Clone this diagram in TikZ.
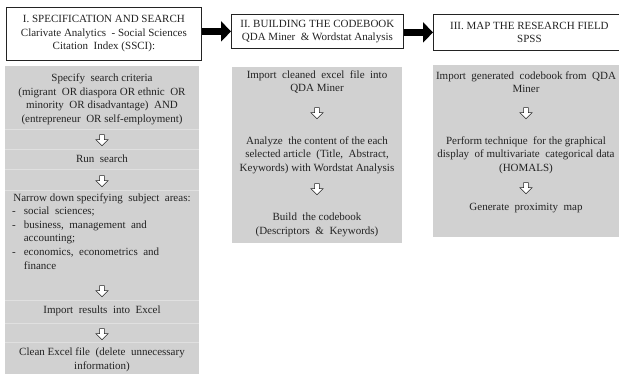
\documentclass[tikz,border=0pt]{standalone}
\usepackage{fontspec}
\setmainfont{Liberation Serif}
\usetikzlibrary{arrows.meta,positioning,shapes.arrows}
\definecolor{panelgray}{RGB}{209,209,209}
\definecolor{rulegray}{RGB}{224,224,224}
\definecolor{inkgray}{RGB}{35,35,35}
\tikzset{
  head/.style={draw=inkgray,line width=0.8pt,fill=white,align=center,inner sep=0pt,
    text=inkgray,font=\fontsize{11}{13.5}\selectfont},
  txt/.style={align=center,inner sep=0pt,text=inkgray,font=\fontsize{11}{13.6}\selectfont},
  down/.style={single arrow,draw=inkgray,fill=white,line width=0.6pt,rotate=-90,
    minimum height=11pt,minimum width=12pt,single arrow head extend=3.5pt,inner sep=2pt},
  link/.style={line width=7pt,-{Triangle[length=10pt,width=20pt]},black}
}
\begin{document}
\begin{tikzpicture}[x=1pt,y=-1pt]
  \useasboundingbox (0,0) rectangle (619,373);
  \clip (0,0) rectangle (619,373);
  % gray panels
  \fill[panelgray] (5,66) rectangle (199,380);
  \fill[panelgray] (232,67) rectangle (402,243);
  \fill[panelgray] (433,65) rectangle (625,237);
  \foreach \y in {129,149,169,190,300,323,342}
    \draw[rulegray,line width=0.8pt] (5,\y) -- (199,\y);

  % headers
  \node[head,anchor=north west,minimum width=195pt,minimum height=53pt] (spec) at (6,7)
    {I. SPECIFICATION AND SEARCH\\Clarivate Analytics\ \ - Social Sciences\\Citation\ \ Index (SSCI):};
  \node[head,anchor=north west,minimum width=172pt,minimum height=34pt] (build) at (231,14)
    {II. BUILDING THE CODEBOOK\\QDA Miner \ \& Wordstat Analysis};
  \node[head,anchor=north west,minimum width=192pt,minimum height=36pt] (map) at (433,14)
    {III. MAP THE RESEARCH FIELD\\SPSS};
  \draw[link] (spec.east |- build.west) -- (build.west);
  \draw[link] (build.east |- map.west) -- (map.west);

  % column I
  \node[txt] (crit) at (102,99.5) {Specify\ \ search criteria\\(migrant\ \ OR diaspora OR ethnic\ \ OR\\minority\ \ OR disadvantage)\ \ AND\\(entrepreneur\ \ OR self-employment)};
  \node[down] (d1) at (102,139) {};
  \node[txt] (run) at (102,159) {Run\ \ search};
  \node[down] (d2) at (102,180) {};
  \node[txt] (narrow) at (102,199) {Narrow down specifying\ \ subject\ \ areas:};
  \node[txt,anchor=north west,align=left] (areas) at (12,205)
    {\begin{tabular}{@{}l@{\hspace{8pt}}l@{}}
      - & social\ \ sciences;\\
      - & business,\ \ management\ \ and\\
        & accounting;\\
      - & economics,\ \ econometrics\ \ and\\
        & finance
     \end{tabular}};
  \node[down] (d3) at (102,290) {};
  \node[txt] (excel) at (102,311) {Import\ \ results\ \ into\ \ Excel};
  \node[down] (d4) at (102,333) {};
  \node[txt] (clean) at (102,360) {Clean Excel file\ \ (delete\ \ unnecessary\\information)};

  % column II
  \node[txt] (qda) at (317,82) {Import\ \ cleaned\ \ excel\ \ file\ \ into\\QDA Miner};
  \node[down] (d5) at (317,112) {};
  \node[txt] (content) at (317,155) {Analyze\ \ the content of the each\\selected article\ \ (Title,\ \ Abstract,\\Keywords) with Wordstat Analysis};
  \node[down] (d6) at (317,188) {};
  \node[txt] (codebook) at (317,225) {Build\ \ the codebook\\(Descriptors\ \ \&\ \ Keywords)};

  % column III
  \node[txt] (gen) at (526,82) {Import\ \ generated\ \ codebook from\ \ QDA\\Miner};
  \node[down] (d7) at (526,112) {};
  \node[txt] (homals) at (526,155) {Perform technique\ \ for the graphical\\display\ \ of multivariate\ \ categorical data\\(HOMALS)};
  \node[down] (d8) at (526,187) {};
  \node[txt] (prox) at (526,208) {Generate\ \ proximity\ \ map};
\end{tikzpicture}
\end{document}
